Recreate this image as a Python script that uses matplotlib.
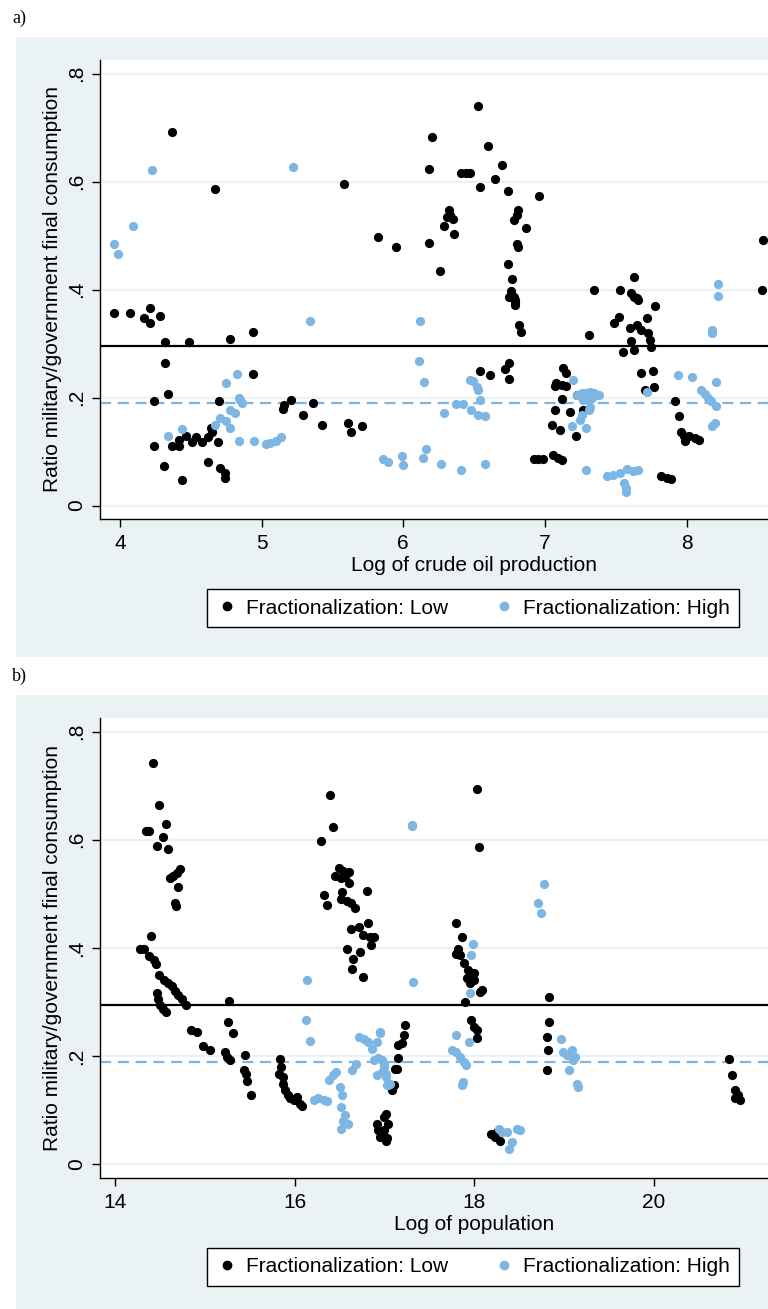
import numpy as np
import matplotlib.pyplot as plt
from matplotlib.patches import Rectangle
from matplotlib.lines import Line2D

# panel a: log of crude oil production
oil_low_x = [3.96, 4.07, 4.21, 4.17, 4.21, 4.28, 4.37, 4.67, 5.58, 5.82, 5.95,
             4.94, 4.32, 4.49, 4.78, 4.32, 4.94, 4.34, 4.24, 4.70,
             4.37, 4.42, 4.47, 4.51, 4.54, 4.58, 4.62, 4.65, 4.69,
             4.24, 4.42, 4.64, 4.31, 4.44, 4.62, 4.71, 4.74, 4.74,
             5.15, 5.16, 5.21, 5.36, 5.29, 5.43, 5.61, 5.63, 5.71,
             6.54, 6.61, 6.72, 6.75, 6.75, 6.82, 6.83, 6.79,
             6.53, 6.20, 6.60, 6.70, 6.18, 6.41, 6.44, 6.47, 6.65, 6.54, 6.74, 6.96,
             6.32, 6.33, 6.35, 6.31, 6.29, 6.36, 6.81, 6.80, 6.78, 6.87,
             6.18, 6.26, 6.80, 6.81, 6.74, 6.77, 6.76, 6.78, 6.75, 6.79, 6.79,
             7.35, 7.53, 7.63, 7.61, 7.63, 7.65, 7.66, 7.78, 7.52, 7.49, 7.72,
             8.54, 8.53, 7.31,
             7.60, 7.65, 7.68, 7.73, 7.74, 7.75, 7.61, 7.63, 7.55,
             7.68, 7.76, 7.77, 7.71,
             7.92, 7.95, 7.96, 7.98, 7.99, 8.02, 8.06, 8.09,
             7.82, 7.86, 7.89,
             6.92, 6.95, 6.99, 7.06, 7.09, 7.12,
             7.13, 7.15, 7.08, 7.12, 7.15, 7.07, 7.12, 7.07, 7.18, 7.05, 7.11, 7.22,
             7.27, 7.23]
oil_low_y = [0.356, 0.356, 0.365, 0.347, 0.338, 0.351, 0.691, 0.587, 0.596, 0.498, 0.478,
             0.321, 0.302, 0.302, 0.309, 0.264, 0.243, 0.207, 0.193, 0.194,
             0.111, 0.122, 0.128, 0.118, 0.126, 0.118, 0.126, 0.137, 0.118,
             0.110, 0.110, 0.144, 0.074, 0.047, 0.081, 0.070, 0.060, 0.051,
             0.179, 0.187, 0.195, 0.189, 0.168, 0.150, 0.152, 0.137, 0.148,
             0.250, 0.241, 0.253, 0.264, 0.234, 0.335, 0.321, 0.375,
             0.740, 0.683, 0.665, 0.630, 0.623, 0.616, 0.616, 0.616, 0.605, 0.589, 0.583, 0.573,
             0.547, 0.538, 0.530, 0.535, 0.518, 0.503, 0.547, 0.538, 0.529, 0.513,
             0.486, 0.435, 0.484, 0.478, 0.447, 0.419, 0.398, 0.387, 0.387, 0.381, 0.372,
             0.400, 0.399, 0.424, 0.393, 0.387, 0.384, 0.381, 0.370, 0.350, 0.338, 0.348,
             0.492, 0.400, 0.315,
             0.328, 0.334, 0.325, 0.319, 0.307, 0.294, 0.304, 0.288, 0.284,
             0.246, 0.250, 0.219, 0.214,
             0.194, 0.165, 0.137, 0.129, 0.119, 0.128, 0.125, 0.121,
             0.054, 0.051, 0.050,
             0.087, 0.087, 0.087, 0.094, 0.088, 0.084,
             0.254, 0.245, 0.227, 0.224, 0.222, 0.222, 0.198, 0.177, 0.174, 0.150, 0.139, 0.128,
             0.176, 0.204]
oil_high_x = [3.96, 3.99, 4.09, 4.23, 5.22, 5.34,
              4.83, 4.75, 4.84, 4.85, 4.86, 4.78, 4.81, 4.71, 4.67, 4.75, 4.78, 4.44, 4.34,
              4.84, 4.95, 5.03, 5.06, 5.10, 5.14,
              5.86, 5.89, 5.99, 6.00, 6.14, 6.16, 6.27, 6.41, 6.58,
              6.12, 6.11, 6.15, 6.29, 6.37, 6.42, 6.47, 6.49, 6.52, 6.53, 6.54, 6.48, 6.53, 6.58,
              8.22, 8.22, 8.18, 8.18, 7.72, 7.94, 8.04, 8.21, 8.10, 8.13, 8.15, 8.17, 8.21, 8.18, 8.20,
              7.44, 7.48, 7.53, 7.58, 7.62, 7.66, 7.56, 7.57, 7.57, 7.29,
              7.20, 7.23, 7.26, 7.29, 7.32, 7.35, 7.38, 7.27, 7.31, 7.33, 7.32, 7.31,
              7.19, 7.25, 7.29, 7.26]
oil_high_y = [0.484, 0.466, 0.518, 0.622, 0.627, 0.341,
              0.244, 0.226, 0.200, 0.195, 0.190, 0.177, 0.172, 0.162, 0.150, 0.156, 0.144, 0.142, 0.128,
              0.119, 0.119, 0.114, 0.116, 0.120, 0.126,
              0.086, 0.080, 0.091, 0.075, 0.088, 0.104, 0.077, 0.065, 0.077,
              0.341, 0.268, 0.228, 0.171, 0.188, 0.188, 0.233, 0.230, 0.219, 0.214, 0.196, 0.176, 0.168, 0.165,
              0.410, 0.388, 0.325, 0.319, 0.211, 0.242, 0.238, 0.228, 0.214, 0.207, 0.199, 0.193, 0.185, 0.148, 0.153,
              0.054, 0.057, 0.060, 0.067, 0.063, 0.065, 0.042, 0.033, 0.025, 0.065,
              0.233, 0.205, 0.208, 0.209, 0.210, 0.208, 0.205, 0.196, 0.195, 0.199, 0.183, 0.177,
              0.148, 0.159, 0.144, 0.168]

# panel b: log of population
pop_low_x = [14.42, 14.49, 14.56, 14.34, 14.38, 14.53, 14.46, 14.59, 14.72, 14.69, 14.64, 14.61,
             14.70, 14.66, 14.68, 14.40, 14.27, 14.32, 14.38, 14.43, 14.45, 14.49, 14.54, 14.59, 14.63,
             14.67, 14.70, 14.74, 14.79, 14.47, 14.48, 14.50, 14.53, 14.56,
             15.27, 14.84, 14.91, 14.98, 15.05, 15.26, 15.31, 15.22, 15.24, 15.28, 15.44, 15.43,
             15.46, 15.47, 15.51,
             15.83, 15.85, 15.82, 15.87, 15.87, 15.89, 15.92, 15.95, 15.99, 16.02, 16.06, 16.08,
             16.39, 16.42, 16.29, 16.49, 16.54, 16.60, 16.45, 16.51, 16.56, 16.60, 16.80, 16.33,
             16.36, 16.52, 16.51, 16.58, 16.63, 16.67, 16.82, 16.62, 16.71, 16.76, 16.84, 16.88,
             16.85, 16.58, 16.73, 16.65, 16.64, 16.76,
             17.08, 17.12, 17.15, 17.15, 17.23, 17.22, 17.19, 17.14, 17.10,
             16.91, 16.99, 17.02, 16.95, 17.02, 16.93, 17.04, 16.99, 17.03,
             18.03, 18.05, 17.79, 17.86, 17.82, 17.80, 17.84, 17.88, 17.93, 17.99, 17.95, 18.06,
             17.90, 18.08, 17.92, 18.00, 17.96, 17.99, 18.03, 18.03,
             18.83, 18.83, 18.81, 18.82, 18.81,
             18.18, 18.23, 18.28, 18.25,
             20.84, 20.87, 20.90, 20.93, 20.96, 20.90]
pop_low_y = [0.741, 0.665, 0.630, 0.617, 0.617, 0.605, 0.588, 0.583, 0.546, 0.539, 0.533, 0.529,
             0.512, 0.484, 0.478, 0.423, 0.399, 0.399, 0.385, 0.378, 0.370, 0.350, 0.341, 0.336, 0.330,
             0.321, 0.313, 0.305, 0.294, 0.316, 0.305, 0.294, 0.288, 0.282,
             0.302, 0.248, 0.245, 0.219, 0.212, 0.264, 0.243, 0.208, 0.199, 0.193, 0.203, 0.175,
             0.168, 0.154, 0.128,
             0.194, 0.180, 0.168, 0.162, 0.149, 0.137, 0.128, 0.122, 0.119, 0.125, 0.112, 0.108,
             0.683, 0.624, 0.597, 0.548, 0.543, 0.541, 0.533, 0.529, 0.532, 0.521, 0.506, 0.498,
             0.480, 0.504, 0.490, 0.486, 0.483, 0.474, 0.447, 0.435, 0.439, 0.424, 0.420, 0.421,
             0.406, 0.399, 0.393, 0.380, 0.362, 0.346,
             0.137, 0.177, 0.220, 0.196, 0.257, 0.239, 0.224, 0.177, 0.146,
             0.075, 0.088, 0.094, 0.051, 0.044, 0.063, 0.075, 0.063, 0.048,
             0.693, 0.586, 0.447, 0.420, 0.399, 0.388, 0.387, 0.372, 0.359, 0.353, 0.335, 0.319,
             0.301, 0.322, 0.345, 0.340, 0.267, 0.254, 0.248, 0.233,
             0.309, 0.264, 0.235, 0.212, 0.174,
             0.057, 0.051, 0.044, 0.060,
             0.194, 0.165, 0.137, 0.128, 0.119, 0.122]
pop_high_x = [16.13, 16.12, 16.17, 16.21, 16.26, 16.32, 16.36, 16.38, 16.42, 16.46, 16.50, 16.52,
              16.51, 16.56, 16.59, 16.51, 16.54, 16.64, 16.68, 16.71, 16.77, 16.82, 16.86, 16.91,
              16.95, 16.88, 16.93, 16.99, 16.91, 16.97, 17.01, 17.04, 16.95, 16.97, 16.99, 17.01,
              17.03, 17.06,
              17.30, 17.31, 17.32,
              18.77, 18.71, 18.74, 17.98, 17.96, 17.95,
              17.79, 17.75, 17.80, 17.84, 17.88, 17.91, 17.94, 17.86, 17.87,
              18.96, 18.99, 19.03, 19.09, 19.10, 19.12, 19.05, 19.14, 19.15,
              18.27, 18.31, 18.36, 18.47, 18.51, 18.42, 18.38]
pop_high_y = [0.341, 0.267, 0.228, 0.119, 0.122, 0.119, 0.117, 0.156, 0.165, 0.171, 0.143, 0.128,
              0.106, 0.091, 0.075, 0.066, 0.081, 0.174, 0.185, 0.235, 0.231, 0.226, 0.214, 0.226,
              0.243, 0.193, 0.196, 0.186, 0.165, 0.171, 0.161, 0.146, 0.245, 0.193, 0.180, 0.168,
              0.146, 0.149,
              0.625, 0.628, 0.338,
              0.519, 0.483, 0.465, 0.407, 0.387, 0.316,
              0.239, 0.211, 0.208, 0.199, 0.190, 0.183, 0.226, 0.146, 0.152,
              0.231, 0.208, 0.202, 0.211, 0.193, 0.199, 0.174, 0.149, 0.143,
              0.066, 0.060, 0.060, 0.066, 0.063, 0.041, 0.029]

low_mean = 0.295
high_mean = 0.190

y_ticks = [0, 0.2, 0.4, 0.6, 0.8]
y_ticklabels = ['0', '.2', '.4', '.6', '.8']

BG = '#EAF2F3'
BLUE = '#7DB6E3'
W, H = 768, 1309
FS = 15
AX_RIGHT = 848  # the graph runs past the right edge of the picture

plt.rcParams['font.family'] = ['Liberation Sans', 'DejaVu Sans']

fig = plt.figure(figsize=(W / 100, H / 100), dpi=100)
fig.patch.set_facecolor('white')


def fx(px):
    return px / W


def fy(py):
    return 1 - py / H


def panel(letter, bg_top, bg_bot, ax_top, ax_bot, leg_y, xs, xlim, xticks, xlabel):
    fig.patches.append(Rectangle((fx(16), fy(bg_bot)), 1, fy(bg_top) - fy(bg_bot),
                                 transform=fig.transFigure, facecolor=BG,
                                 edgecolor='none', zorder=-5))
    fig.text(fx(12), fy(bg_top - 19), letter, family='Liberation Serif',
             fontsize=13, va='center', ha='left')

    ax = fig.add_axes([fx(100), fy(ax_bot), fx(AX_RIGHT - 100), fy(ax_top) - fy(ax_bot)])
    ax.set_zorder(2)
    ax.set_facecolor('white')
    low_x, low_y, high_x, high_y = xs
    ax.axhline(low_mean, color='black', lw=1.6, zorder=2)
    ax.axhline(high_mean, color=BLUE, lw=1.6, ls=(0, (5, 3)), zorder=2)
    ax.scatter(low_x, low_y, s=44, color='black', linewidths=0, zorder=3)
    ax.scatter(high_x, high_y, s=44, color=BLUE, linewidths=0, zorder=4)

    ax.set_xlim(*xlim)
    ax.set_ylim(-0.025, 0.825)
    ax.set_yticks(y_ticks)
    ax.set_yticklabels(y_ticklabels, rotation=90, va='center')
    ax.set_xticks(xticks)
    ax.grid(axis='y', color=BG, lw=1.6, zorder=1)
    ax.set_axisbelow(True)
    for side in ['top', 'right']:
        ax.spines[side].set_visible(False)
    for side in ['left', 'bottom']:
        ax.spines[side].set_linewidth(1.0)
    ax.tick_params(axis='x', direction='out', length=6, width=1, labelsize=FS, pad=5)
    ax.tick_params(axis='y', direction='out', length=6, width=1, labelsize=FS, pad=4)
    ax.set_xlabel(xlabel, fontsize=FS, labelpad=2)
    ax.set_ylabel('Ratio military/government final consumption', fontsize=FS, labelpad=4)

    handles = [Line2D([], [], ls='none', marker='o', ms=6, color='black'),
               Line2D([], [], ls='none', marker='o', ms=6, color=BLUE)]
    leg = fig.legend(handles, ['Fractionalization: Low', 'Fractionalization: High'],
                     loc='center', bbox_to_anchor=(fx(473), fy(leg_y)), ncol=2,
                     fontsize=FS, frameon=True, fancybox=False, edgecolor='black',
                     facecolor='white', framealpha=1, handletextpad=0.4,
                     columnspacing=2.2, borderpad=0.45, handlelength=1.0)
    leg.get_frame().set_linewidth(1.0)
    return ax


panel('a)', 37, 657, 60, 519, 608, (oil_low_x, oil_low_y, oil_high_x, oil_high_y),
      (3.86, 9.14), [4, 5, 6, 7, 8], 'Log of crude oil production')
panel('b)', 695, 1309, 718, 1178, 1267, (pop_low_x, pop_low_y, pop_high_x, pop_high_y),
      (13.83, 22.16), [14, 16, 18, 20], 'Log of population')

fig.savefig('out.png', dpi=100)
